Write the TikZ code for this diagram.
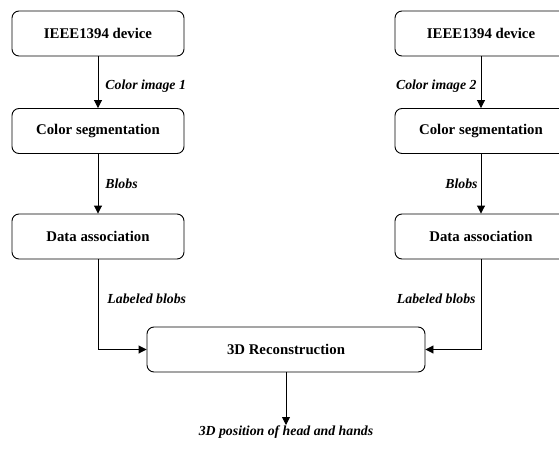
\documentclass[tikz,border=0pt]{standalone}
\usepackage{fontspec}
\setmainfont{Liberation Serif}
\usetikzlibrary{arrows.meta}
\begin{document}
\begin{tikzpicture}[x=1pt,y=-1pt,
  box/.style={draw, line width=0.9pt, rounded corners=7pt, minimum width=172pt, minimum height=45pt, inner sep=0pt, font=\fontsize{14.8}{16}\selectfont\bfseries},
  arr/.style={line width=0.9pt, -{Triangle[width=8pt,length=8pt]}},
  lbl/.style={font=\fontsize{13.8}{15}\selectfont\bfseries\itshape, inner sep=0pt}]
\clip (0,0) rectangle (559,452);
\useasboundingbox (0,0) rectangle (559,452);
\node[box] (t1) at (98,33.5) {IEEE1394 device};
\node[box] (c1) at (98,131) {Color segmentation};
\node[box] (d1) at (98,236.5) {Data association};
\node[box] (t2) at (481,33.5) {IEEE1394 device};
\node[box] (c2) at (481,131) {Color segmentation};
\node[box] (d2) at (481,236.5) {Data association};
\node[box, minimum width=278pt] (r) at (286,349.5) {3D Reconstruction};
\node[lbl, anchor=north, inner sep=1pt] (out) at (286,425) {3D position of head and hands};
\draw[arr] (t1) -- node[lbl, right=7pt, pos=0.58] {Color image 1} (c1);
\draw[arr] (c1) -- node[lbl, right=7pt] {Blobs} (d1);
\draw[arr] (t2) -- node[lbl, left=4pt, pos=0.58] {Color image 2} (c2);
\draw[arr] (c2) -- node[lbl, left=3pt] {Blobs} (d2);
\draw[arr] (d1) |- node[lbl, right=9pt, pos=0.22] {Labeled blobs} (r);
\draw[arr] (d2) |- node[lbl, left=5pt, pos=0.22] {Labeled blobs} (r);
\draw[arr] (r) -- (out);
\end{tikzpicture}
\end{document}
